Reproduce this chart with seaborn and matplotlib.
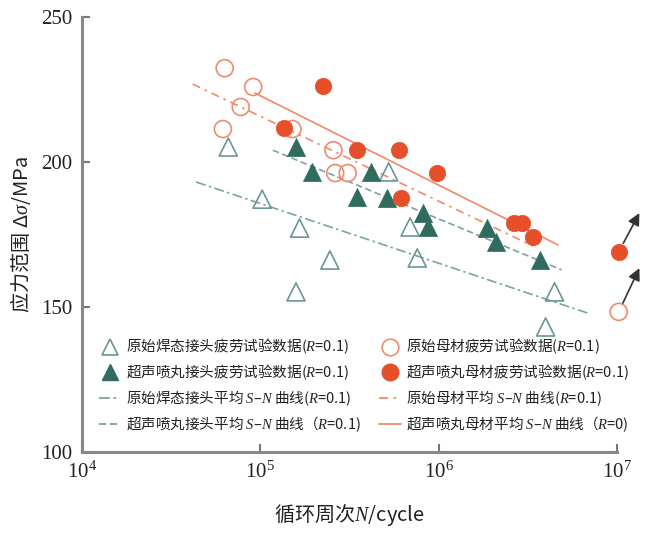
import numpy as np
import pandas as pd
import matplotlib
matplotlib.use("Agg")
import matplotlib.pyplot as plt
import seaborn as sns
from matplotlib.lines import Line2D

# 循环次数 (log10 N) 与应力范围 (MPa)
weld_raw_logN = [4.82, 5.01, 5.22, 5.20, 5.39, 5.72, 5.84, 5.88, 6.65, 6.60]
weld_raw_s    = [205.2, 187.2, 177.2, 155.2, 166.2, 196.6, 177.6, 166.9, 155.2, 143.1]

weld_uip_logN = [5.20, 5.29, 5.54, 5.62, 5.71, 5.91, 5.94, 6.27, 6.32, 6.57]
weld_uip_s    = [205.2, 196.6, 187.9, 196.6, 187.6, 182.4, 177.6, 177.2, 172.4, 166.2]

base_raw_logN = [4.80, 4.96, 4.89, 4.79, 5.18, 5.41, 5.42, 5.49, 7.01]
base_raw_s    = [232.4, 225.9, 219.0, 211.4, 211.4, 204.1, 196.2, 196.2, 148.3]

base_uip_logN = [5.35, 5.13, 5.54, 5.78, 5.99, 5.79, 6.42, 6.47, 6.53, 7.01]
base_uip_s    = [226.2, 211.7, 204.1, 204.1, 196.2, 187.6, 179.0, 179.0, 174.1, 169.0]

# 平均 S-N 曲线端点
line_weld_raw = ([4.64, 6.835], [193.1, 147.9])
line_weld_uip = ([5.07, 6.69], [204.1, 162.8])
line_base_raw = ([4.62, 6.53], [226.9, 171.0])
line_base_uip = ([4.97, 6.67], [223.8, 171.4])

# 越出 (run-out) 箭头
runouts = [((7.01, 169.0), (7.126, 182.4)), ((7.01, 148.3), (7.126, 163.4))]

labels = [
    "原始焊态接头疲劳试验数据($R$=0.1)",
    "超声喷丸接头疲劳试验数据($R$=0.1)",
    "原始焊态接头平均 $S$–$N$ 曲线($R$=0.1)",
    "超声喷丸接头平均 $S$–$N$ 曲线（$R$=0.1)",
    "原始母材疲劳试验数据($R$=0.1)",
    "超声喷丸母材疲劳试验数据($R$=0.1)",
    "原始母材平均 $S$–$N$ 曲线($R$=0.1)",
    "超声喷丸母材平均 $S$–$N$ 曲线（$R$=0)",
]

sns.set_theme(style="ticks")
plt.rcParams["font.family"] = ["Liberation Serif", "Noto Sans CJK SC"]
plt.rcParams["mathtext.fontset"] = "custom"
plt.rcParams["mathtext.rm"] = "Liberation Serif"
plt.rcParams["mathtext.it"] = "Liberation Serif:italic"
plt.rcParams["mathtext.bf"] = "Liberation Serif:bold"

TEAL_DARK = "#2f6b5f"
TEAL_EDGE = "#6a9696"
TEAL_LINE = "#7aa3a3"
ORANGE = "#e5502a"
ORANGE_EDGE = "#f08a6e"
ORANGE_LINE = "#f2896a"

fig = plt.figure(figsize=(6.46, 5.36), dpi=100)
ax = fig.add_axes([0.127, 0.157, 0.828, 0.811])


def to_df(logN, s):
    return pd.DataFrame({"N": 10 ** np.array(logN), "s": s})


sns.scatterplot(data=to_df(weld_raw_logN, weld_raw_s), x="N", y="s", ax=ax,
                marker="^", s=170, facecolor="none", edgecolor=TEAL_EDGE,
                linewidth=1.2, zorder=3, clip_on=False)
sns.scatterplot(data=to_df(weld_uip_logN, weld_uip_s), x="N", y="s", ax=ax,
                marker="^", s=170, color=TEAL_DARK, edgecolor=TEAL_DARK,
                linewidth=0.5, zorder=4, clip_on=False)
sns.scatterplot(data=to_df(base_raw_logN, base_raw_s), x="N", y="s", ax=ax,
                marker="o", s=150, facecolor="none", edgecolor=ORANGE_EDGE,
                linewidth=1.2, zorder=3, clip_on=False)
sns.scatterplot(data=to_df(base_uip_logN, base_uip_s), x="N", y="s", ax=ax,
                marker="o", s=140, color=ORANGE, edgecolor=ORANGE,
                linewidth=0.5, zorder=4, clip_on=False)

for (lx, ly), col, ls in [
    (line_weld_raw, TEAL_LINE, (0, (6, 2, 1.5, 2))),
    (line_weld_uip, TEAL_LINE, (0, (4, 2))),
    (line_base_raw, ORANGE_LINE, (0, (5, 3, 1.5, 3))),
    (line_base_uip, ORANGE_LINE, "-"),
]:
    sns.lineplot(x=10 ** np.array(lx), y=ly, ax=ax, color=col, linestyle=ls,
                 linewidth=1.2, zorder=2)

for (x0, y0), (x1, y1) in runouts:
    ax.annotate("", xy=(10 ** x1, y1), xytext=(10 ** x0, y0),
                arrowprops=dict(arrowstyle="-|>", color="#333333", lw=1.2,
                                mutation_scale=18, shrinkA=7, shrinkB=0),
                annotation_clip=False)

ax.set_xscale("log")
ax.set_xlim(1e4, 1e7)
ax.set_ylim(100, 250)
ax.set_yticks([100, 150, 200, 250])
ax.set_xticks([1e4, 1e5, 1e6, 1e7])
ax.minorticks_off()
ax.tick_params(direction="in", length=6, width=1.5, color="#777777",
               labelsize=15, labelcolor="#222222", pad=7)
for side in ["top", "right"]:
    ax.spines[side].set_visible(False)
for side in ["left", "bottom"]:
    ax.spines[side].set_color("#888888")
    ax.spines[side].set_linewidth(2.2)

cjk = {"family": "Noto Sans CJK SC", "size": 14.5}
ax.set_xlabel("循环周次$N$/cycle", fontdict=cjk, color="#222222", labelpad=14)
ax.set_ylabel("应力范围 Δ$\\sigma$/MPa", fontdict=cjk, color="#222222", labelpad=6)

# 图例
handles = [
    Line2D([], [], marker="^", ls="none", ms=12, mfc="none", mec=TEAL_EDGE, mew=1.2),
    Line2D([], [], marker="^", ls="none", ms=12, mfc=TEAL_DARK, mec=TEAL_DARK),
    Line2D([], [], color=TEAL_LINE, ls=(0, (6, 2, 1.5, 2)), lw=1.3),
    Line2D([], [], color=TEAL_LINE, ls=(0, (4, 2)), lw=1.3),
    Line2D([], [], marker="o", ls="none", ms=12, mfc="none", mec=ORANGE_EDGE, mew=1.2),
    Line2D([], [], marker="o", ls="none", ms=12, mfc=ORANGE, mec=ORANGE),
    Line2D([], [], color=ORANGE_LINE, ls=(0, (5, 3, 1.5, 3)), lw=1.3),
    Line2D([], [], color=ORANGE_LINE, ls="-", lw=1.3),
]
ax.legend(handles, labels, ncol=2, loc="upper left", bbox_to_anchor=(0.02, 0.278),
          frameon=False, prop={"family": "Noto Sans CJK SC", "size": 10.5},
          handlelength=1.5, handletextpad=0.35, columnspacing=1.3,
          labelspacing=0.42, borderaxespad=0, labelcolor="#222222")

fig.savefig("out.png", dpi=100)
